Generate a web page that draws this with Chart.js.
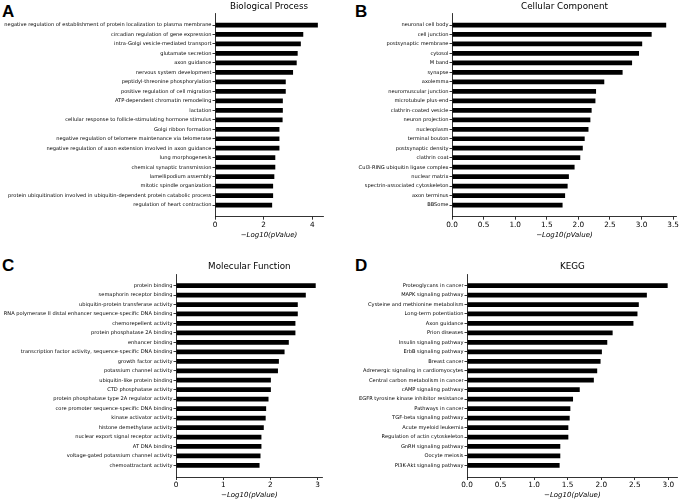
<!DOCTYPE html>
<html>
<head>
<meta charset="utf-8">
<script src="https://cdn.jsdelivr.net/npm/chart.js@4.4.0/dist/chart.umd.min.js"></script>
<style>
    body { margin: 0; width: 680px; height: 501px; position: relative; background: #fff; overflow: hidden; }
    .panel { position: absolute; }
    .tag { position: absolute; font: bold 17px "Liberation Sans", Arial, sans-serif; color: #000; line-height: 1; }
</style>
</head>
<body>
<div class="tag" style="left:2px;top:3px">A</div>
<div class="tag" style="left:355px;top:3px">B</div>
<div class="tag" style="left:2px;top:257px">C</div>
<div class="tag" style="left:355px;top:257px">D</div>

<canvas class="panel" id="bpChart" width="340" height="250" style="left:0;top:0"></canvas>
<canvas class="panel" id="ccChart" width="340" height="250" style="left:340px;top:0"></canvas>
<canvas class="panel" id="mfChart" width="340" height="246" style="left:0;top:255px"></canvas>
<canvas class="panel" id="keggChart" width="340" height="246" style="left:340px;top:255px"></canvas>

<script>
const bpLabels = [
    'negative regulation of establishment of protein localization to plasma membrane',
    'circadian regulation of gene expression',
    'intra-Golgi vesicle-mediated transport',
    'glutamate secretion',
    'axon guidance',
    'nervous system development',
    'peptidyl-threonine phosphorylation',
    'positive regulation of cell migration',
    'ATP-dependent chromatin remodeling',
    'lactation',
    'cellular response to follicle-stimulating hormone stimulus',
    'Golgi ribbon formation',
    'negative regulation of telomere maintenance via telomerase',
    'negative regulation of axon extension involved in axon guidance',
    'lung morphogenesis',
    'chemical synaptic transmission',
    'lamellipodium assembly',
    'mitotic spindle organization',
    'protein ubiquitination involved in ubiquitin-dependent protein catabolic process',
    'regulation of heart contraction'
];
const bpValues = [4.23, 3.63, 3.53, 3.40, 3.36, 3.21, 2.91, 2.91, 2.79, 2.79, 2.78, 2.65, 2.65, 2.65, 2.48, 2.48, 2.44, 2.39, 2.39, 2.35];
const bpTicks = [0, 2, 4];

const ccLabels = [
    'neuronal cell body', 'cell junction', 'postsynaptic membrane', 'cytosol', 'M band',
    'synapse', 'axolemma', 'neuromuscular junction', 'microtubule plus-end', 'clathrin-coated vesicle',
    'neuron projection', 'nucleoplasm', 'terminal bouton', 'postsynaptic density', 'clathrin coat',
    'Cul3-RING ubiquitin ligase complex', 'nuclear matrix', 'spectrin-associated cytoskeleton', 'axon terminus', 'BBSome'
];
const ccValues = [3.39, 3.16, 3.01, 2.96, 2.85, 2.70, 2.41, 2.28, 2.27, 2.21, 2.19, 2.16, 2.10, 2.07, 2.03, 1.94, 1.85, 1.83, 1.79, 1.75];
const ccTicks = [0, 0.5, 1, 1.5, 2, 2.5, 3, 3.5];

const mfLabels = [
    'protein binding',
    'semaphorin receptor binding',
    'ubiquitin-protein transferase activity',
    'RNA polymerase II distal enhancer sequence-specific DNA binding',
    'chemorepellent activity',
    'protein phosphatase 2A binding',
    'enhancer binding',
    'transcription factor activity, sequence-specific DNA binding',
    'growth factor activity',
    'potassium channel activity',
    'ubiquitin-like protein binding',
    'CTD phosphatase activity',
    'protein phosphatase type 2A regulator activity',
    'core promoter sequence-specific DNA binding',
    'kinase activator activity',
    'histone demethylase activity',
    'nuclear export signal receptor activity',
    'AT DNA binding',
    'voltage-gated potassium channel activity',
    'chemoattractant activity'
];
const mfValues = [2.96, 2.75, 2.58, 2.58, 2.53, 2.53, 2.39, 2.30, 2.18, 2.16, 2.01, 2.01, 1.96, 1.91, 1.90, 1.86, 1.81, 1.81, 1.79, 1.77];
const mfTicks = [0, 1, 2, 3];

const keggLabels = [
    'Proteoglycans in cancer', 'MAPK signaling pathway', 'Cysteine and methionine metabolism',
    'Long-term potentiation', 'Axon guidance', 'Prion diseases', 'Insulin signaling pathway',
    'ErbB signaling pathway', 'Breast cancer', 'Adrenergic signaling in cardiomyocytes',
    'Central carbon metabolism in cancer', 'cAMP signaling pathway', 'EGFR tyrosine kinase inhibitor resistance',
    'Pathways in cancer', 'TGF-beta signaling pathway', 'Acute myeloid leukemia',
    'Regulation of actin cytoskeleton', 'GnRH signaling pathway', 'Oocyte meiosis', 'PI3K-Akt signaling pathway'
];
const keggValues = [2.99, 2.68, 2.56, 2.54, 2.48, 2.17, 2.09, 2.01, 1.99, 1.94, 1.89, 1.68, 1.58, 1.54, 1.53, 1.51, 1.51, 1.39, 1.39, 1.38];
const keggTicks = [0, 0.5, 1, 1.5, 2, 2.5, 3];

Chart.defaults.font.family = '"DejaVu Sans", sans-serif';
Chart.defaults.color = '#000';

function initEnrichmentChart(id, title, labels, values, ticks, decimals, box) {
    const ctx = document.getElementById(id);
    // matplotlib style margins: 5% around the bars
    const xMax = Math.max(...values) * 1.05;
    const yPad = 0.25 + (labels.length - 0.5) * 0.05;

    return new Chart(ctx, {
        type: 'bar',
        data: {
            datasets: [{
                data: values.map((v, i) => ({ x: v, y: i })),
                backgroundColor: '#000',
                borderWidth: 0,
                barPercentage: 0.5,
                categoryPercentage: 1
            }]
        },
        options: {
            indexAxis: 'y',
            responsive: false,
            animation: false,
            layout: { padding: { left: 0, top: 0, right: box.padRight, bottom: 0 } },
            plugins: {
                legend: { display: false },
                tooltip: { enabled: false },
                title: {
                    display: true,
                    text: title,
                    fullSize: false,
                    color: '#000',
                    font: { size: 8.75, weight: 'normal' },
                    padding: { top: box.titleTop, bottom: box.titleBottom }
                }
            },
            scales: {
                x: {
                    type: 'linear',
                    min: 0,
                    max: xMax,
                    afterBuildTicks: (scale) => { scale.ticks = ticks.map(v => ({ value: v })); },
                    afterFit: (scale) => { scale.height = box.axisHeight; },
                    ticks: {
                        font: { size: 7.3 },
                        color: '#000',
                        padding: 1,
                        maxRotation: 0,
                        callback: (v) => Number(v).toFixed(decimals)
                    },
                    grid: { drawOnChartArea: false, tickLength: 3, color: '#000', lineWidth: 0.8 },
                    border: { color: '#000', width: 0.8 },
                    title: {
                        display: true,
                        text: '\u2212Log10(pValue)',
                        color: '#000',
                        font: { size: 7, style: 'italic' },
                        padding: { top: 0, bottom: box.labelBottom }
                    }
                },
                y: {
                    type: 'linear',
                    reverse: true,
                    offset: false,
                    min: -yPad,
                    max: labels.length - 1 + yPad,
                    afterBuildTicks: (scale) => { scale.ticks = labels.map((l, i) => ({ value: i })); },
                    afterFit: (scale) => { scale.width = box.axisLeft; },
                    ticks: {
                        autoSkip: false,
                        font: { size: 5.1 },
                        color: '#000',
                        padding: 1,
                        callback: (v) => labels[v]
                    },
                    grid: { drawOnChartArea: false, offset: false, tickLength: 2.5, color: '#000', lineWidth: 0.8 },
                    border: { color: '#000', width: 0.8 }
                }
            }
        }
    });
}

initEnrichmentChart('bpChart', 'Biological Process', bpLabels, bpValues, bpTicks, 0,
    { axisLeft: 215, padRight: 17, axisHeight: 33.3, titleTop: 1, titleBottom: 1.9, labelBottom: 10.7 });
initEnrichmentChart('ccChart', 'Cellular Component', ccLabels, ccValues, ccTicks, 1,
    { axisLeft: 112, padRight: 1.5, axisHeight: 33.3, titleTop: 1, titleBottom: 1.9, labelBottom: 10.7 });
initEnrichmentChart('mfChart', 'Molecular Function', mfLabels, mfValues, mfTicks, 0,
    { axisLeft: 176, padRight: 17.3, axisHeight: 24, titleTop: 6.5, titleBottom: 2, labelBottom: 1.4 });
initEnrichmentChart('keggChart', 'KEGG', keggLabels, keggValues, keggTicks, 1,
    { axisLeft: 127, padRight: 2.3, axisHeight: 24, titleTop: 6.5, titleBottom: 2, labelBottom: 1.4 });
</script>
</body>
</html>
